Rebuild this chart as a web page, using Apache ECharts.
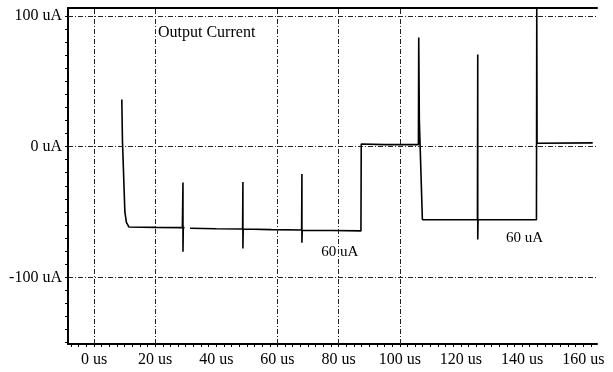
<!DOCTYPE html>
<html>
<head>
<meta charset="utf-8">
<script src="https://cdn.jsdelivr.net/npm/echarts@6/dist/echarts.min.js"></script>
<style>
  html, body { margin: 0; padding: 0; background: #fff; }
  #chart { width: 613px; height: 372px; }
</style>
</head>
<body>
<div id="chart"></div>
<script>
// trace (time in us, current in uA)
var timeUs = [9.1, 9.3, 10.1, 10.6, 11.4, 20, 28.9, 29.1, 29.1, 29.2, 29.6, 30.4, 31.4, 40,
  48.6, 48.7, 48.7, 48.8, 58, 67.9, 68.0, 68.0, 68.1, 78, 87.3, 87.4, 95, 106.1,
  106.2, 106.4, 107.4, 116, 125.4, 125.5, 125.5, 125.6, 135, 144.7, 144.8, 144.9, 163.1];
var currentUA = [36, 5, -50, -58, -61.5, -61.8, -62, -27.5, -80.5, -62, -62, null, -62.5, -62.8,
  -63, -27, -78, -63, -63.5, -63.8, -21, -73.5, -64, -64.2, -64.5, 2, 1.5, 1.5,
  83.5, 20, -56, -56, -56, 70.5, -71, -56, -56, -56, 106, 2.5, 2.8];

var xTicks = [0, 20, 40, 60, 80, 100, 120, 140, 160];
var yTicks = [-100, 0, 100];
var xGrid = [0, 20, 60, 80, 100];
var yGrid = [-100, 0, 100];

var notes = [
  { text: '60 uA', t: 80.4, v: -80.5 },
  { text: '60 uA', t: 140.8, v: -69.7 }
];

var xMinor = [];
for (var i = -7.5; i <= 162.5; i += 2.5) xMinor.push(i);
var yMinor = [];
for (var j = -150; j <= 100; j += 10) yMinor.push(j);

var font = 'Liberation Serif';

var trace = [];
for (var k = 0; k < timeUs.length; k++) trace.push([timeUs[k], currentUA[k]]);

var chart = echarts.init(document.getElementById('chart'));
var option = {
  animation: false,
  backgroundColor: '#fff',
  title: {
    text: 'Output Current',
    left: 158, top: 25, padding: 0,
    textStyle: { fontFamily: font, fontSize: 16, fontWeight: 'normal', color: '#000' }
  },
  grid: { left: 68, right: 16, top: 8, bottom: 28 },
  xAxis: [{
    type: 'value', min: -8.5, max: 164.5,
    splitLine: { show: false },
    axisLine: { onZero: false, lineStyle: { color: '#000', width: 2 } },
    axisTick: { customValues: xMinor, length: 3, lineStyle: { color: '#000', width: 1 } },
    axisLabel: {
      customValues: xTicks, margin: 8,
      fontFamily: font, fontSize: 16, color: '#000',
      formatter: function (v) { return v + ' us'; }
    }
  }, {
    type: 'value', position: 'top', min: -8.5, max: 164.5,
    splitLine: { show: false },
    axisLine: { show: true, onZero: false, lineStyle: { color: '#000', width: 2 } },
    axisTick: { show: false },
    axisLabel: { show: false }
  }],
  yAxis: {
    type: 'value', min: -151, max: 106,
    splitLine: { show: false },
    axisLine: { show: true, onZero: false, lineStyle: { color: '#000', width: 2 } },
    axisTick: { show: true, customValues: yMinor, length: 3, lineStyle: { color: '#000', width: 1 } },
    axisLabel: {
      customValues: yTicks, margin: 6,
      fontFamily: font, fontSize: 16, color: '#000',
      formatter: function (v) { return v + ' uA'; }
    }
  },
  series: [{
    // dash-dot grid of the original plot
    type: 'line', data: [], silent: true, z: 1,
    markLine: {
      silent: true, symbol: 'none', label: { show: false },
      lineStyle: { color: '#222', width: 1, type: [5, 2, 1, 2] },
      data: xGrid.map(function (x) { return { xAxis: x }; })
        .concat(yGrid.map(function (y) { return { yAxis: y }; }))
    }
  }, {
    name: 'Output Current',
    type: 'line', data: trace, z: 3,
    showSymbol: false, connectNulls: false,
    lineStyle: { color: '#000', width: 1.6 },
    markPoint: {
      symbol: 'circle', symbolSize: 0,
      label: { show: true, fontFamily: font, fontSize: 15, color: '#000',
        formatter: function (p) { return p.name; } },
      data: notes.map(function (n) { return { name: n.text, coord: [n.t, n.v] }; })
    }
  }]
};
chart.setOption(option);
</script>
</body>
</html>
